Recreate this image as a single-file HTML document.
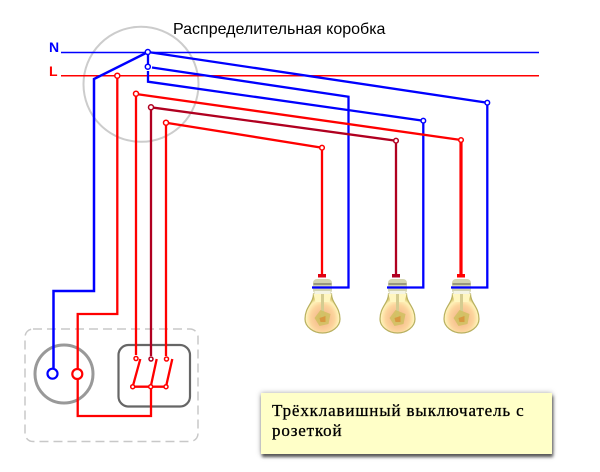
<!DOCTYPE html>
<html><head><meta charset="utf-8">
<style>
html,body{margin:0;padding:0;background:#fff}
#p{position:relative;width:600px;height:472px;overflow:hidden;background:#fff}
svg{position:absolute;left:0;top:0}
.t{position:absolute;white-space:nowrap}
#box{position:absolute;left:261px;top:393px;width:291px;height:61px;background:#ffffc8;box-shadow:1px 3px 3px #555,0 0 5px #aaa}
</style></head><body><div id="p">
<svg width="600" height="472" viewBox="0 0 600 472">
<defs>
<radialGradient id="g" cx="50%" cy="62%" r="55%">
<stop offset="0" stop-color="#e0b850"/><stop offset=".3" stop-color="#f6c090"/><stop offset=".62" stop-color="#fcd49c"/><stop offset=".85" stop-color="#fff2b8"/><stop offset="1" stop-color="#d8c870"/>
</radialGradient>
<g id="bulb">
<path d="M-9 18 C-9 27 -17.500 31 -17.500 43 C-17.500 51 -9 57 0 57 C9 57 17.500 51 17.500 43 C17.500 31 9 27 9 18 Z" fill="url(#g)" stroke="#b8b060" stroke-width="1.200"/>
<path d="M-9 18H9L7 26H-7Z" fill="#fff6c0"/>
<rect x="-9.500" y="3" width="19" height="15" rx="4" fill="#d4d4b0"/>
<rect x="-9" y="7" width="18" height="2" fill="#98987c"/>
<rect x="-8" y="15" width="16" height="3" fill="#f4f4e4"/>
<rect x="-1.500" y="18" width="3" height="24" fill="#d4cc90"/>
<path d="M-8 42 L-2 34 L8 38 L6 48 L-3 50Z" fill="#d0c060" opacity=".85"/>
<path d="M-3 42 L3 40 L3 46 L-2 46Z" fill="#d89840"/>
</g>
</defs>
<g fill="none" stroke-linejoin="miter">
<rect x="25" y="329" width="173" height="112.500" rx="8" stroke="#c8c8c8" stroke-width="1.500" stroke-dasharray="9 5"/>
<circle cx="141" cy="84.300" r="57.500" stroke="#ccc" stroke-width="2"/>
<path d="M61 52.500H539" stroke="#0000ff" stroke-width="1.500"/>
<path d="M61 75.700H539" stroke="#ff0000" stroke-width="1.500"/>
<circle cx="64" cy="374" r="29" stroke="#999" stroke-width="3"/>
<rect x="118.500" y="345" width="71.500" height="61.500" rx="10" stroke="#666" stroke-width="2.200"/>
</g>
<use href="#bulb" x="322.500" y="276"/>
<use href="#bulb" x="397.500" y="276"/>
<use href="#bulb" x="461.500" y="276"/>
<g fill="none" stroke="#0000ff" stroke-width="2.300">
<path d="M148 52L94 79V291H53.500V368" stroke-width="2.500"/>
<path d="M148 52V66M148 71V81.700L423.300 120.700V287.500H387"/>
<path d="M148 52L487.300 102.700V287.500H451"/>
<path d="M152 67.500L348.500 96.700V287.500H312"/>
</g>
<g fill="none" stroke="#ff0000" stroke-width="2.300">
<path d="M117.300 76V314H77.700V369M77.700 379V416H151V387"/>
<path d="M136 94L461 140" />
<path d="M461 140V277" stroke-width="3.200"/>
<path d="M136 94V355"/>
<path d="M166 122.700L322 147.700V277"/>
<path d="M166 122.700V356"/>
<path d="M132.700 386.700H166M132.700 386.700L140.300 359M150.700 386.700L156.700 359M166 386.700L172.300 359"/>
</g>
<g fill="none" stroke="#b00020" stroke-width="2.300">
<path d="M151 107.300L396 140.700V277M151 107.300V356"/>
</g>
<rect x="318" y="274" width="8" height="3.500" fill="#e00010"/>
<rect x="392" y="274" width="8" height="3.500" fill="#b00020"/>
<rect x="457" y="274" width="8" height="3.500" fill="#ff0000"/>
<g fill="#fff" stroke="#0000ff" stroke-width="1.500">
<circle cx="147.800" cy="52" r="2.500"/><circle cx="147.800" cy="66.700" r="2.500"/>
<circle cx="487.300" cy="102.700" r="2.300"/><circle cx="423.300" cy="120.700" r="2.300"/>
<circle cx="52.500" cy="373.700" r="5" stroke-width="2.200"/>
</g>
<g fill="#fff" stroke="#ff0000" stroke-width="1.500">
<circle cx="117.300" cy="75.700" r="2.500"/><circle cx="136" cy="93.700" r="2.500"/><circle cx="166" cy="122.700" r="2.500"/>
<circle cx="461" cy="140" r="2.300"/><circle cx="322" cy="147.700" r="2.300"/>
<circle cx="77.300" cy="374" r="5" stroke-width="2.200"/>
<circle cx="136" cy="358.500" r="2"/><circle cx="166.500" cy="359" r="2"/>
<circle cx="132.700" cy="386.700" r="2"/><circle cx="150.700" cy="386.700" r="2"/><circle cx="166" cy="386.700" r="2"/>
</g>
<g fill="#fff" stroke="#b00020" stroke-width="1.500">
<circle cx="151" cy="107.300" r="2.500"/><circle cx="396" cy="140.700" r="2.300"/><circle cx="151" cy="359" r="2"/>
</g>
</svg>
<div class="t" style="left:173px;top:21px;font:16px/18px 'Liberation Sans',sans-serif;color:#000">Распределительная коробка</div>
<div class="t" style="left:49px;top:40px;font:bold 14px/15px 'Liberation Sans',sans-serif;color:#0000ff">N</div>
<div class="t" style="left:49px;top:64px;font:bold 14px/15px 'Liberation Sans',sans-serif;color:#ff0000">L</div>
<div id="box"></div>
<div class="t" style="left:272px;top:401px;font:17px/20px 'Liberation Serif',serif;color:#000;-webkit-text-stroke:.3px #000;letter-spacing:.85px">Трёхклавишный выключатель с<br>розеткой</div>
</div></body></html>
